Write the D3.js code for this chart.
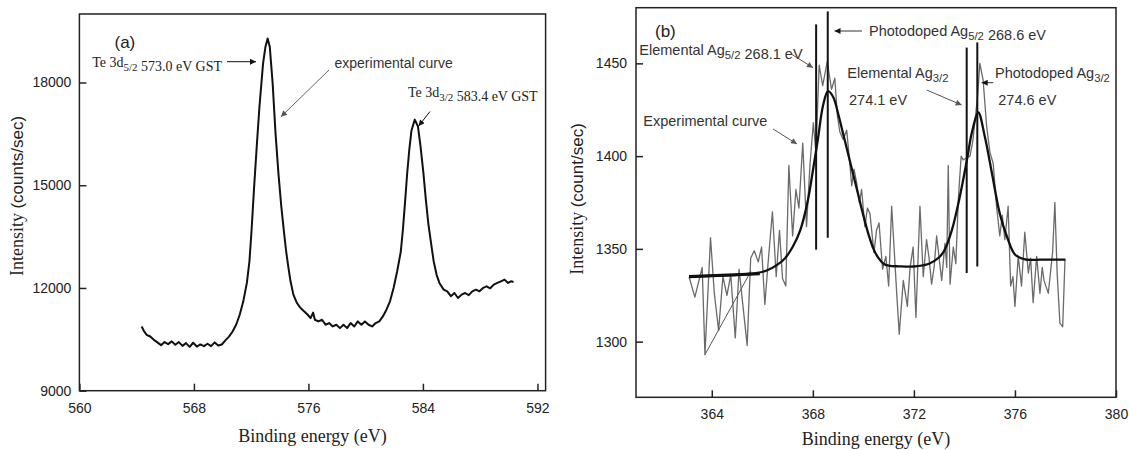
<!DOCTYPE html>
<html><head><meta charset="utf-8">
<script src="https://cdn.jsdelivr.net/npm/d3@7"></script>
<style>
html,body{margin:0;padding:0;background:#fff;}
svg{display:block;}
</style></head><body>
<svg id="chart" width="1129" height="450"></svg>
<script>
// ---------------- DATA ----------------
// Panel (a): Te 3d XPS spectrum
const aEnergy = [564.35,564.5,564.7,564.95,565.2,565.45,565.7,565.95,566.2,566.45,566.7,566.95,567.2,567.45,567.7,567.95,568.2,568.45,568.7,568.95,569.2,569.45,569.7,569.95,570.2,570.45,570.7,570.95,571.2,571.45,571.7,571.88,572.03,572.2,572.4,572.58,572.83,573.0,573.15,573.3,573.5,573.7,573.9,574.1,574.3,574.45,574.6,574.75,574.95,575.2,575.4,575.58,575.75,575.95,576.15,576.33,576.45,576.7,576.95,577.2,577.45,577.7,577.95,578.2,578.45,578.7,578.95,579.2,579.45,579.7,579.95,580.2,580.45,580.7,580.95,581.2,581.45,581.7,581.95,582.2,582.45,582.6,582.75,582.9,583.05,583.2,583.43,583.65,583.83,584.03,584.2,584.38,584.58,584.75,584.95,585.15,585.45,585.7,585.95,586.2,586.45,586.7,586.95,587.2,587.45,587.7,587.95,588.2,588.45,588.7,588.95,589.2,589.45,589.7,589.95,590.15,590.33];
const aIntensity = [10876,10749,10632,10583,10485,10410,10330,10420,10360,10440,10340,10420,10310,10390,10280,10400,10290,10350,10300,10370,10300,10410,10320,10350,10470,10580,10730,10925,11218,11609,12147,12780,13700,14900,16200,17300,18550,19045,19287,19045,17981,16529,15368,14400,13600,13050,12600,12195,11805,11560,11440,11365,11300,11218,11120,11280,11072,11023,11072,10925,10974,10876,10925,10827,10925,10827,10974,10876,11023,10925,11023,10925,10876,10974,11023,11169,11365,11609,12000,12489,13050,13700,14500,15350,16050,16600,16916,16723,16142,15368,14594,13868,13270,12782,12391,12147,11951,11902,11760,11853,11707,11805,11853,11790,11902,11951,11902,12000,12049,11990,12098,12147,12195,12244,12147,12195,12176];
const aXTicks = [560,568,576,584,592];
const aYTicks = [9000,12000,15000,18000];

// Panel (b): Ag XPS spectrum – raw experimental curve
const bEnergy = [363.10,363.33,363.62,363.73,363.95,364.10,364.27,364.44,364.60,364.75,364.93,365.08,365.22,365.40,365.54,365.68,365.84,365.97,366.10,366.25,366.40,366.55,366.68,366.80,366.93,367.05,367.20,367.33,367.45,367.60,367.75,367.89,368.02,368.12,368.25,368.39,368.57,368.74,368.87,368.97,369.07,369.20,369.34,369.45,369.54,369.63,369.73,369.84,369.93,370.06,370.16,370.26,370.42,370.52,370.62,370.76,370.89,371.00,371.12,371.32,371.42,371.58,371.74,371.85,371.97,372.08,372.24,372.37,372.50,372.60,372.70,372.80,372.90,373.00,373.10,373.23,373.30,373.36,373.43,373.56,373.66,373.76,373.87,373.95,374.08,374.22,374.33,374.41,374.52,374.61,374.74,374.88,375.01,375.14,375.27,375.40,375.50,375.60,375.73,375.83,375.92,376.00,376.13,376.26,376.39,376.53,376.62,376.72,376.86,376.99,377.08,377.15,377.32,377.42,377.49,377.58,377.67,377.78,377.89,377.98];
const bRaw = [1335,1324,1340,1293,1356,1326,1306,1335,1325,1336,1302,1339,1321,1298,1345,1349,1343,1351,1320,1346,1370,1335,1360,1334,1330,1395,1357,1382,1372,1407,1362,1396,1418,1402,1449,1438,1451,1436,1442,1422,1413,1409,1414,1398,1384,1393,1386,1375,1382,1362,1372,1369,1348,1360,1364,1339,1346,1330,1373,1326,1304,1333,1319,1340,1351,1313,1373,1335,1355,1345,1331,1340,1357,1345,1333,1353,1340,1395,1331,1351,1342,1377,1400,1398,1399,1400,1408,1418,1432,1450,1441,1416,1402,1396,1373,1357,1368,1355,1373,1330,1335,1319,1346,1330,1359,1337,1345,1321,1346,1326,1340,1333,1326,1339,1348,1375,1337,1310,1308,1344];
// fitted envelope
const bFitEnergy = [363.1,364.0,365.0,365.8,366.2,366.6,366.9,367.2,367.5,367.8,368.0,368.2,368.4,368.6,368.8,369.0,369.2,369.4,369.6,369.8,370.0,370.2,370.4,370.6,370.8,371.0,371.4,372.0,372.6,373.0,373.2,373.5,373.8,374.1,374.3,374.55,374.8,375.1,375.4,375.7,376.0,376.4,377.0,378.0];
const bFit = [1335,1335.5,1336,1337,1338.5,1341.5,1345,1351,1360,1376,1392,1409,1427,1435,1432,1423,1412,1401,1390,1379,1368,1358,1350,1345,1342,1341,1340.6,1340.5,1342,1345.5,1349,1360,1377,1398,1413,1423.5,1411,1390,1369,1356,1347,1344.3,1344.2,1344.2];
// background segment and straight segment
const bBaseEnergy = [363.1, 365.9];
const bBase = [1335, 1336.6];
const bDiagEnergy = [363.73, 365.55];
const bDiag = [1293, 1338];
// component position lines
const bLineEnergy = [368.13, 368.59, 374.09, 374.51];
const bLineLow = [1349.6, 1356, 1337, 1340.5];
const bLineHigh = [1471, 1478, 1458.5, 1461.3];
const bXTicks = [364,368,372,376,380];
const bYTicks = [1300,1350,1400,1450];

// ---------------- DRAWING ----------------
const SERIF = "'Liberation Serif','Times New Roman',serif";
const SANS = "'Liberation Sans',Arial,sans-serif";
const AX = "#222";
const svg = d3.select("#chart");
const defs = svg.append("defs");
function marker(id, color, w, h) {
  defs.append("marker").attr("id", id).attr("viewBox", "0 0 10 10")
    .attr("refX", 10).attr("refY", 5).attr("markerWidth", w).attr("markerHeight", h)
    .attr("orient", "auto").attr("markerUnits", "userSpaceOnUse")
    .append("path").attr("d", "M0,0 L10,5 L0,10 Z").attr("fill", color);
}
marker("headBlack", "#111", 9, 6);
marker("headGray", "#555", 9, 6);

function panel(cfg) {
  const g = svg.append("g");
  const x = d3.scaleLinear().domain(cfg.xDomain).range([cfg.left, cfg.right]);
  const y = d3.scaleLinear().domain(cfg.yDomain).range([cfg.bottom, cfg.top]);
  const gx = g.append("g").attr("transform", `translate(0,${cfg.bottom})`)
    .call(d3.axisBottom(x).tickValues(cfg.xTicks).tickSizeInner(-7).tickSizeOuter(0)
      .tickPadding(cfg.xPad).tickFormat(d3.format("d")));
  const gy = g.append("g").attr("transform", `translate(${cfg.left},0)`)
    .call(d3.axisLeft(y).tickValues(cfg.yTicks).tickSizeInner(-7).tickSizeOuter(0)
      .tickPadding(cfg.yPad).tickFormat(d3.format("d")));
  [gx, gy].forEach(a => {
    a.select(".domain").remove();
    a.selectAll(".tick line").attr("stroke", AX).attr("stroke-width", 1.5);
    a.selectAll(".tick text").attr("fill", "#222").style("font-family", SANS).style("font-size", "14px");
  });
  g.append("rect").attr("x", cfg.left).attr("y", cfg.top)
    .attr("width", cfg.right - cfg.left).attr("height", cfg.bottom - cfg.top)
    .attr("fill", "none").attr("stroke", AX).attr("stroke-width", 1.5);
  return {g, x, y};
}

// ----- Panel (a)
const A = panel({xDomain: [560, 592.57], yDomain: [9000, 20000], left: 79.4, right: 545.6,
  top: 14, bottom: 390.7, xTicks: aXTicks, yTicks: aYTicks, xPad: 12, yPad: 8});
A.g.append("path").datum(d3.zip(aEnergy, aIntensity))
  .attr("fill", "none").attr("stroke", "#111").attr("stroke-width", 2).attr("stroke-linejoin", "round")
  .attr("d", d3.line().x(d => A.x(d[0])).y(d => A.y(d[1])));

// ----- Panel (b)
const B = panel({xDomain: [361, 380], yDomain: [1270, 1480], left: 636, right: 1116,
  top: 7.7, bottom: 397.3, xTicks: bXTicks, yTicks: bYTicks, xPad: 12, yPad: 9});
const lineB = d3.line().x(d => B.x(d[0])).y(d => B.y(d[1]));
B.g.append("path").datum(d3.zip(bEnergy, bRaw))
  .attr("fill", "none").attr("stroke", "#6a6a6a").attr("stroke-width", 1.3).attr("stroke-linejoin", "round")
  .attr("d", lineB);
B.g.append("path").datum(d3.zip(bDiagEnergy, bDiag))
  .attr("fill", "none").attr("stroke", "#555").attr("stroke-width", 1).attr("d", lineB);
B.g.append("path").datum(d3.zip(bBaseEnergy, bBase))
  .attr("fill", "none").attr("stroke", "#111").attr("stroke-width", 3.2).attr("d", lineB);
B.g.append("path").datum(d3.zip(bFitEnergy, bFit))
  .attr("fill", "none").attr("stroke", "#111").attr("stroke-width", 2.3)
  .attr("d", d3.line().curve(d3.curveCatmullRom).x(d => B.x(d[0])).y(d => B.y(d[1])));
B.g.selectAll("line.comp").data(d3.range(bLineEnergy.length)).join("line").attr("class", "comp")
  .attr("x1", i => B.x(bLineEnergy[i])).attr("x2", i => B.x(bLineEnergy[i]))
  .attr("y1", i => B.y(bLineLow[i])).attr("y2", i => B.y(bLineHigh[i]))
  .attr("stroke", "#111").attr("stroke-width", 2);

// ----- Axis titles
function xTitle(cx, y) {
  svg.append("text").attr("x", cx).attr("y", y).attr("text-anchor", "middle")
    .style("font-family", SERIF).style("font-size", "18px").attr("fill", "#222")
    .text("Binding energy (eV)");
}
xTitle(312.5, 442);
xTitle(876, 445);
function yTitle(x, cy, unit) {
  const t = svg.append("text").attr("transform", `translate(${x},${cy}) rotate(-90)`)
    .attr("text-anchor", "middle").attr("fill", "#222");
  t.append("tspan").style("font-family", SERIF).style("font-size", "18px").text("Intensity ");
  t.append("tspan").style("font-family", SANS).style("font-size", "17px").text(unit);
}
yTitle(23, 196, "(counts/sec)");
yTitle(583, 199, "(count/sec)");

// ----- Annotations
function label(x, y, parts, family, size, color) {
  const t = svg.append("text").attr("x", x).attr("y", y).attr("fill", color || "#222")
    .style("font-family", family).style("font-size", size + "px");
  parts.forEach(p => {
    if (p.sub) {
      t.append("tspan").attr("dy", size * 0.3).style("font-size", (size * 0.78) + "px").text(p.sub);
      t.append("tspan").attr("dy", -size * 0.3).text("");
    } else {
      t.append("tspan").text(p.t);
    }
  });
  return t;
}
function arrow(x1, y1, x2, y2, color, head, w) {
  svg.append("line").attr("x1", x1).attr("y1", y1).attr("x2", x2).attr("y2", y2)
    .attr("stroke", color).attr("stroke-width", w || 1).attr("marker-end", `url(#${head})`);
}
// panel a
label(114.5, 47.5, [{t: "(a)"}], SANS, 17, "#222");
label(92.3, 66.5, [{t: "Te 3d"}, {sub: "5/2"}, {t: " 573.0 eV GST"}], SERIF, 14, "#222");
arrow(227, 61.7, 256, 61.7, "#111", "headBlack", 1);
label(334.5, 68.3, [{t: "experimental curve"}], SANS, 14, "#333");
arrow(329, 70, 281, 116.7, "#666", "headGray", 1);
label(407.9, 96.7, [{t: "Te 3d"}, {sub: "3/2"}, {t: " 583.4 eV GST"}], SERIF, 14, "#222");
arrow(430, 111.5, 418.6, 126, "#111", "headBlack", 1);
// panel b
label(655, 37, [{t: "(b)"}], SANS, 17, "#222");
label(639.3, 55, [{t: "Elemental Ag"}, {sub: "5/2"}, {t: " 268.1 eV"}], SANS, 14.5, "#333");
arrow(791.7, 54.3, 813, 67.7, "#555", "headGray", 1);
label(643.3, 126, [{t: "Experimental curve"}], SANS, 14.5, "#333");
arrow(773, 129, 797, 144, "#555", "headGray", 1);
label(869, 35.5, [{t: "Photodoped Ag"}, {sub: "5/2"}, {t: " 268.6 eV"}], SANS, 14.5, "#333");
arrow(862, 31, 834.5, 31, "#333", "headBlack", 1);
label(847.3, 78, [{t: "Elemental Ag"}, {sub: "3/2"}], SANS, 14.5, "#333");
label(849, 104.5, [{t: "274.1 eV"}], SANS, 14.5, "#333");
arrow(926.7, 90, 961.7, 105, "#555", "headGray", 1);
label(995, 78, [{t: "Photodoped Ag"}, {sub: "3/2"}], SANS, 14.5, "#333");
arrow(993.3, 82.7, 981.7, 82.7, "#333", "headBlack", 1);
label(998.3, 104.5, [{t: "274.6 eV"}], SANS, 14.5, "#333");
</script>
</body></html>
